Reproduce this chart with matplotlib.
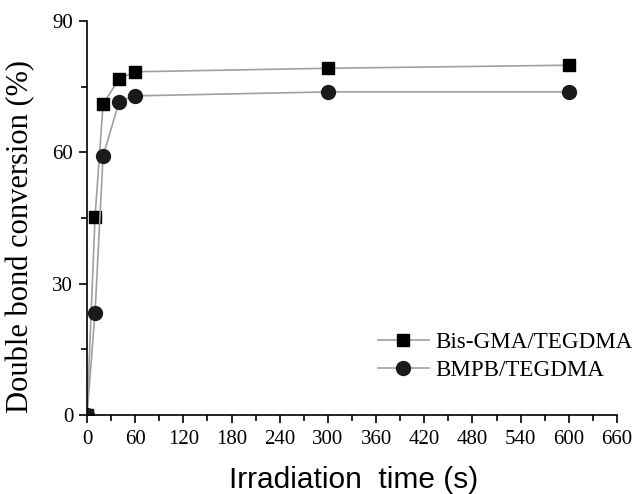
import matplotlib.pyplot as plt
from matplotlib.ticker import MultipleLocator

# irradiation time (s)
time = [0, 10, 20, 40, 60, 300, 600]
# double bond conversion (%)
bis_gma = [0, 45.2, 71.0, 76.8, 78.4, 79.2, 79.9]
bmpb = [0, 23.4, 59.1, 71.6, 72.9, 73.8, 73.8]

plt.rcParams['font.family'] = ['Liberation Serif', 'DejaVu Serif']

fig = plt.figure(figsize=(6.37, 4.94), dpi=100)
ax = fig.add_axes([0.1366, 0.16, 0.832, 0.7975])

ax.plot(time, bis_gma, color='#a0a0a0', lw=1.2, marker='s', ms=9,
        mfc='black', mec='black', label='Bis-GMA/TEGDMA')
ax.plot(time, bmpb, color='#a0a0a0', lw=1.2, marker='o', ms=10,
        mfc='#1a1a1a', mec='#1a1a1a', label='BMPB/TEGDMA')

ax.set_xlim(0, 660)
ax.set_ylim(0, 90)
ax.xaxis.set_major_locator(MultipleLocator(60))
ax.xaxis.set_minor_locator(MultipleLocator(30))
ax.yaxis.set_major_locator(MultipleLocator(30))
ax.yaxis.set_minor_locator(MultipleLocator(15))
ax.tick_params(which='major', direction='out', length=6, width=1.2,
               labelsize=15, pad=4)
ax.tick_params(axis='x', which='major', pad=5)
ax.tick_params(which='minor', direction='out', length=4, width=1.2)
for s in ['top', 'right']:
    ax.spines[s].set_visible(False)
for s in ['left', 'bottom']:
    ax.spines[s].set_linewidth(1.2)

ax.set_xlabel('Irradiation  time (s)', family=['Liberation Sans', 'DejaVu Sans'],
              fontsize=21.5)
ax.xaxis.set_label_coords(0.503, -0.13)
ax.set_ylabel('Double bond conversion (%)', fontsize=22)
ax.yaxis.set_label_coords(-0.097, 0.452)

ax.legend(loc='upper left', bbox_to_anchor=(0.549, 0.212), frameon=False,
          fontsize=16.6, handlelength=2.2, handletextpad=0.3, labelspacing=0.3,
          borderpad=0, borderaxespad=0)

fig.savefig('out.png', dpi=100)
